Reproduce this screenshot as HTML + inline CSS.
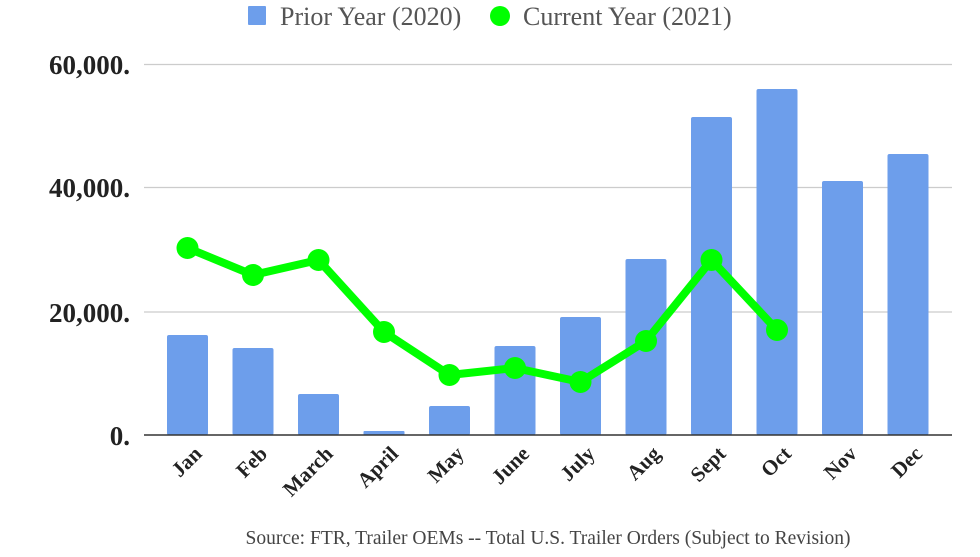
<!DOCTYPE html>
<html><head><meta charset="utf-8"><style>html,body{margin:0;padding:0;background:#fff;}</style></head>
<body>
<svg width="980" height="552" viewBox="0 0 980 552" xmlns="http://www.w3.org/2000/svg">
<g font-family="Liberation Serif, serif">
<!-- legend -->
<rect x="248" y="6" width="18" height="19" rx="1" fill="#6d9eeb"/>
<text x="280" y="25" font-size="26" fill="#555">Prior Year (2020)</text>
<circle cx="500" cy="16" r="10" fill="#00ff00"/>
<text x="523" y="25" font-size="26" fill="#555">Current Year (2021)</text>
<!-- grid -->
<g stroke="#cccccc" stroke-width="1.2">
<line x1="144" x2="952" y1="64.5" y2="64.5"/>
<line x1="144" x2="952" y1="187.5" y2="187.5"/>
<line x1="144" x2="952" y1="312" y2="312"/>
</g>
<g font-size="27" font-weight="bold" fill="#222" text-anchor="end">
<text x="130" y="74">60,000.</text>
<text x="130" y="197">40,000.</text>
<text x="130" y="322">20,000.</text>
<text x="130" y="445">0.</text>
</g>
<!-- bars -->
<g fill="#6d9eeb">
<rect x="167" y="335" width="41" height="100" rx="2"/>
<rect x="232.5" y="348" width="41" height="87" rx="2"/>
<rect x="298" y="394" width="41" height="41" rx="2"/>
<rect x="363.5" y="431" width="41" height="4" rx="1"/>
<rect x="429" y="406" width="41" height="29" rx="2"/>
<rect x="494.5" y="346" width="41" height="89" rx="2"/>
<rect x="560" y="317" width="41" height="118" rx="2"/>
<rect x="625.5" y="259" width="41" height="176" rx="2"/>
<rect x="691" y="117" width="41" height="318" rx="2"/>
<rect x="756.5" y="89" width="41" height="346" rx="2"/>
<rect x="822" y="181" width="41" height="254" rx="2"/>
<rect x="887.5" y="154" width="41" height="281" rx="2"/>
</g>
<line x1="144" x2="952" y1="435" y2="435" stroke="#333" stroke-width="1.5"/>
<!-- line -->
<polyline points="187.5,248 253,275 318.5,260 384,332 449.5,375 515,368 580.5,382 646,341 711.5,260 777,330" fill="none" stroke="#00ff00" stroke-width="8" stroke-linejoin="round"/>
<g fill="#00ff00">
<circle cx="187.5" cy="248" r="11"/><circle cx="253" cy="275" r="11"/><circle cx="318.5" cy="260" r="11"/><circle cx="384" cy="332" r="11"/><circle cx="449.5" cy="375" r="11"/><circle cx="515" cy="368" r="11"/><circle cx="580.5" cy="382" r="11"/><circle cx="646" cy="341" r="11"/><circle cx="711.5" cy="260" r="11"/><circle cx="777" cy="330" r="11"/>
</g>
<!-- x labels -->
<g font-size="21" font-weight="bold" fill="#222" text-anchor="end">
<text transform="translate(203,455) rotate(-45)">Jan</text>
<text transform="translate(268.5,455) rotate(-45)">Feb</text>
<text transform="translate(334,455) rotate(-45)">March</text>
<text transform="translate(399.5,455) rotate(-45)">April</text>
<text transform="translate(465,455) rotate(-45)">May</text>
<text transform="translate(530.5,455) rotate(-45)">June</text>
<text transform="translate(596,455) rotate(-45)">July</text>
<text transform="translate(661.5,455) rotate(-45)">Aug</text>
<text transform="translate(727,455) rotate(-45)">Sept</text>
<text transform="translate(792.5,455) rotate(-45)">Oct</text>
<text transform="translate(858,455) rotate(-45)">Nov</text>
<text transform="translate(923.5,455) rotate(-45)">Dec</text>
</g>
<text x="548" y="544" font-size="19.5" fill="#444" text-anchor="middle">Source: FTR, Trailer OEMs -- Total U.S. Trailer Orders (Subject to Revision)</text>
</g>
</svg>
</body></html>
